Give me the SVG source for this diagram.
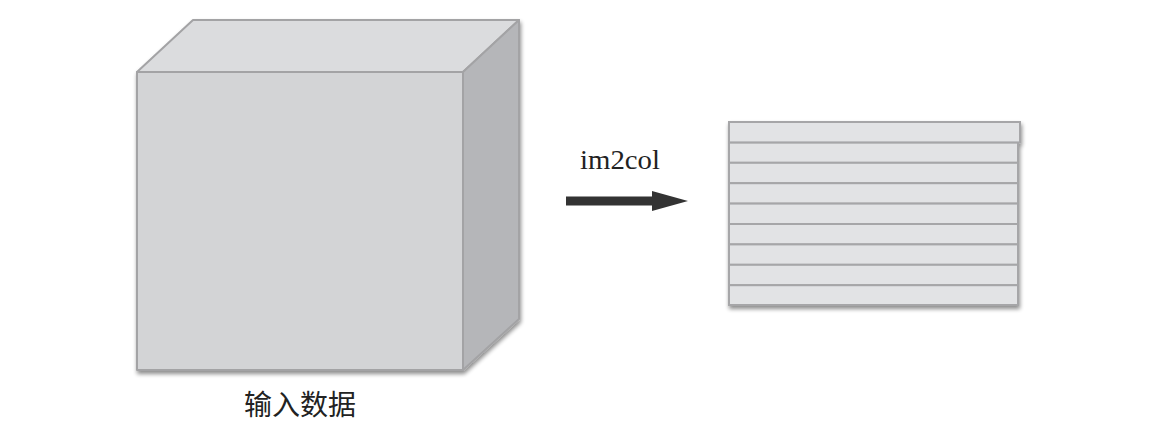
<svg xmlns="http://www.w3.org/2000/svg" width="1166" height="440" viewBox="0 0 1166 440">
  <defs>
    <filter id="shadow" x="-10%" y="-10%" width="125%" height="125%">
      <feGaussianBlur in="SourceAlpha" stdDeviation="2"/>
      <feOffset dx="1" dy="3" result="b"/>
      <feComponentTransfer><feFuncA type="linear" slope="0.45"/></feComponentTransfer>
      <feMerge><feMergeNode/><feMergeNode in="SourceGraphic"/></feMerge>
    </filter>
    <marker id="arrowhead" viewBox="0 0 36 20" refX="0" refY="10" markerWidth="36" markerHeight="20" markerUnits="userSpaceOnUse" orient="auto">
      <path d="M0,0 L36,10 L0,20 Z" fill="#333333"/>
    </marker>
  </defs>
  <style>
    .edge { stroke: #a3a3a5; stroke-width: 2; stroke-linejoin: round; }
    .front { fill: #d3d4d6; }
    .top { fill: #dbdcde; }
    .side { fill: #b5b6b9; }
    .row { fill: #e2e3e5; stroke: #a6a6a8; stroke-width: 2; }
    .label-cn { font-family: "Noto Sans CJK SC", sans-serif; font-size: 28px; fill: #222222; }
    .label-en { font-family: "Liberation Serif", serif; font-size: 27px; fill: #222222; }
  </style>

  <rect width="1166" height="440" fill="#ffffff"/>

  <g id="input-cube" filter="url(#shadow)">
    <polygon class="top edge" points="137,72 193,20 519,20 463,72"/>
    <polygon class="side edge" points="463,72 519,20 519,319 463,370"/>
    <rect class="front edge" x="137" y="72" width="326" height="298"/>
  </g>
  <g id="input-label">
    <text class="label-cn" x="300" y="415" text-anchor="middle">输入数据</text>
  </g>

  <g id="connectors">
    <line x1="566" y1="201" x2="652" y2="201" stroke="#333333" stroke-width="9" marker-end="url(#arrowhead)"/>
  </g>
  <g id="arrow-label">
    <text class="label-en" x="580" y="169" textLength="80" lengthAdjust="spacingAndGlyphs">im2col</text>
  </g>

  <g id="output-matrix" filter="url(#shadow)">
    <rect class="row" x="729" y="142.4" width="289" height="20.4"/>
    <rect class="row" x="729" y="162.8" width="289" height="20.4"/>
    <rect class="row" x="729" y="183.2" width="289" height="20.4"/>
    <rect class="row" x="729" y="203.6" width="289" height="20.4"/>
    <rect class="row" x="729" y="224" width="289" height="20.4"/>
    <rect class="row" x="729" y="244.4" width="289" height="20.4"/>
    <rect class="row" x="729" y="264.8" width="289" height="20.4"/>
    <rect class="row" x="729" y="285.2" width="289" height="19.8"/>
    <rect class="row" x="729" y="122" width="291" height="20.4"/>
  </g>
</svg>
